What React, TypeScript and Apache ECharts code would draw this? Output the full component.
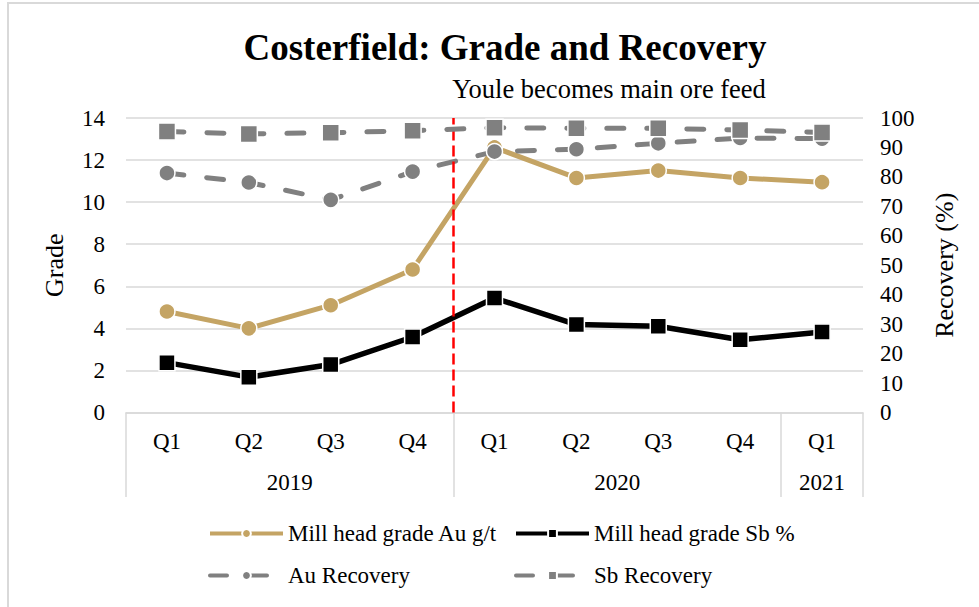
import React, { useEffect, useRef } from "react";
import * as echarts from "echarts";

const quarters = ["Q1", "Q2", "Q3", "Q4", "Q1", "Q2", "Q3", "Q4", "Q1"];
const yearLabels = ["2019", "2020", "2021"];
const yearCenters = [2, 6, 8.5];
const yearBoundaries = [0, 4, 8, 9];
const youleStart = 4;

const auGrade = [4.8, 4.0, 5.1, 6.8, 12.6, 11.15, 11.5, 11.15, 10.95];
const sbGrade = [2.37, 1.68, 2.28, 3.59, 5.44, 4.18, 4.1, 3.46, 3.83];
const auRecovery = [81.3, 78.1, 72.2, 81.8, 88.6, 89.4, 91.4, 93.2, 93.0];
const sbRecovery = [95.4, 94.6, 95.0, 95.7, 96.7, 96.5, 96.5, 95.9, 95.1];

const FONT = "Liberation Serif";
const GOLD = "#c4a464";
const GRAY = "#808080";
const FS = 23;

export default function App() {
  const ref = useRef<HTMLDivElement>(null);
  useEffect(() => {
    if (!ref.current) return;
    const chart = echarts.init(ref.current, undefined, { renderer: "svg" });
    const dash = [17, 23];
    const legendCommon = {
      orient: "vertical",
      top: 517,
      itemWidth: 73,
      itemHeight: 11,
      itemGap: 19,
      lineStyle: { width: 4 },
      textStyle: { fontFamily: FONT, fontSize: FS, color: "#000" },
    };
    chart.setOption({
      animation: false,
      backgroundColor: "#fff",
      textStyle: { fontFamily: FONT, color: "#000" },
      title: [
        {
          text: "Costerfield: Grade and Recovery",
          left: 500,
          top: 24,
          textAlign: "center",
          textStyle: { fontFamily: FONT, fontSize: 37, fontWeight: "bold", color: "#000" },
        },
        {
          text: "Youle becomes main ore feed",
          left: 604,
          top: 70,
          textAlign: "center",
          textStyle: { fontFamily: FONT, fontSize: 26.5, fontWeight: "normal", color: "#000" },
        },
      ],
      graphic: [
        {
          type: "rect",
          shape: { x: 8, y: 3, width: 1100, height: 1100 },
          style: { fill: "none", stroke: "#d9d9d9", lineWidth: 2 },
          silent: true,
          z: -1,
        },
      ],
      grid: { left: 126, right: 116, top: 118, bottom: 194.5 },
      legend: [
        { ...legendCommon, data: ["Mill head grade Au g/t", "Au Recovery"], left: 203 },
        { ...legendCommon, data: ["Mill head grade Sb %", "Sb Recovery"], left: 509 },
      ],
      xAxis: [
        {
          type: "category",
          data: quarters,
          axisLine: { lineStyle: { color: "#d9d9d9", width: 1.5 } },
          axisTick: { show: false },
          axisLabel: { fontFamily: FONT, fontSize: FS, color: "#000", margin: 17 },
        },
        {
          type: "value",
          min: 0,
          max: 9,
          position: "bottom",
          axisLine: { show: false },
          splitLine: { show: false },
          axisTick: {
            show: true,
            customValues: yearBoundaries,
            length: 84.5,
            lineStyle: { color: "#d9d9d9", width: 1.5 },
          },
          axisLabel: {
            customValues: yearCenters,
            formatter: (v: number) => {
              const i = yearCenters.indexOf(v);
              return i >= 0 ? yearLabels[i] : "";
            },
            fontFamily: FONT,
            fontSize: FS,
            color: "#000",
            margin: 58,
          },
        },
      ],
      yAxis: [
        {
          type: "value",
          min: 0,
          max: 14,
          interval: 2,
          name: "Grade",
          nameLocation: "middle",
          nameRotate: 90,
          nameGap: 59,
          nameTextStyle: { fontFamily: FONT, fontSize: 26, color: "#000" },
          axisLine: { show: false },
          axisTick: { show: false },
          splitLine: { lineStyle: { color: "#d9d9d9", width: 1.5 } },
          axisLabel: { fontFamily: FONT, fontSize: FS, color: "#000", margin: 21 },
        },
        {
          type: "value",
          min: 0,
          max: 100,
          interval: 10,
          position: "right",
          name: "Recovery (%)",
          nameLocation: "middle",
          nameRotate: 90,
          nameGap: 68,
          nameTextStyle: { fontFamily: FONT, fontSize: 26, color: "#000" },
          axisLine: { show: false },
          axisTick: { show: false },
          splitLine: { show: false },
          axisLabel: { fontFamily: FONT, fontSize: FS, color: "#000", margin: 17 },
        },
      ],
      series: [
        {
          name: "Mill head grade Au g/t",
          type: "line",
          data: auGrade,
          yAxisIndex: 0,
          symbol: "circle",
          symbolSize: 16,
          color: GOLD,
          lineStyle: { color: GOLD, width: 5 },
          itemStyle: { color: GOLD, borderColor: "#fff", borderWidth: 1.5 },
          z: 2,
        },
        {
          name: "Mill head grade Sb %",
          type: "line",
          data: sbGrade,
          yAxisIndex: 0,
          symbol: "rect",
          symbolSize: 16,
          color: "#000",
          lineStyle: { color: "#000", width: 5.5 },
          itemStyle: { color: "#000", borderColor: "#fff", borderWidth: 1.5 },
          z: 3,
        },
        {
          name: "Au Recovery",
          type: "line",
          data: auRecovery,
          yAxisIndex: 1,
          symbol: "circle",
          symbolSize: 16,
          color: GRAY,
          lineStyle: { color: GRAY, width: 5, type: dash, cap: "round" },
          itemStyle: { color: GRAY, borderColor: "#fff", borderWidth: 1.5 },
          z: 4,
        },
        {
          name: "Sb Recovery",
          type: "line",
          data: sbRecovery,
          yAxisIndex: 1,
          symbol: "rect",
          symbolSize: 17,
          color: GRAY,
          lineStyle: { color: GRAY, width: 5, type: dash, cap: "round" },
          itemStyle: { color: GRAY, borderColor: "#fff", borderWidth: 1.5 },
          z: 5,
        },
        {
          name: "Youle",
          type: "line",
          xAxisIndex: 1,
          yAxisIndex: 0,
          data: [],
          markLine: {
            silent: true,
            symbol: "none",
            label: { show: false },
            lineStyle: { color: "#ff0000", type: [11, 5], width: 2.5 },
            data: [{ xAxis: youleStart }],
          },
          z: 6,
        },
      ],
    });
    return () => chart.dispose();
  }, []);
  return (
    <div
      ref={ref}
      style={{ position: "absolute", left: 0, top: 0, width: 979, height: 607 }}
    />
  );
}
